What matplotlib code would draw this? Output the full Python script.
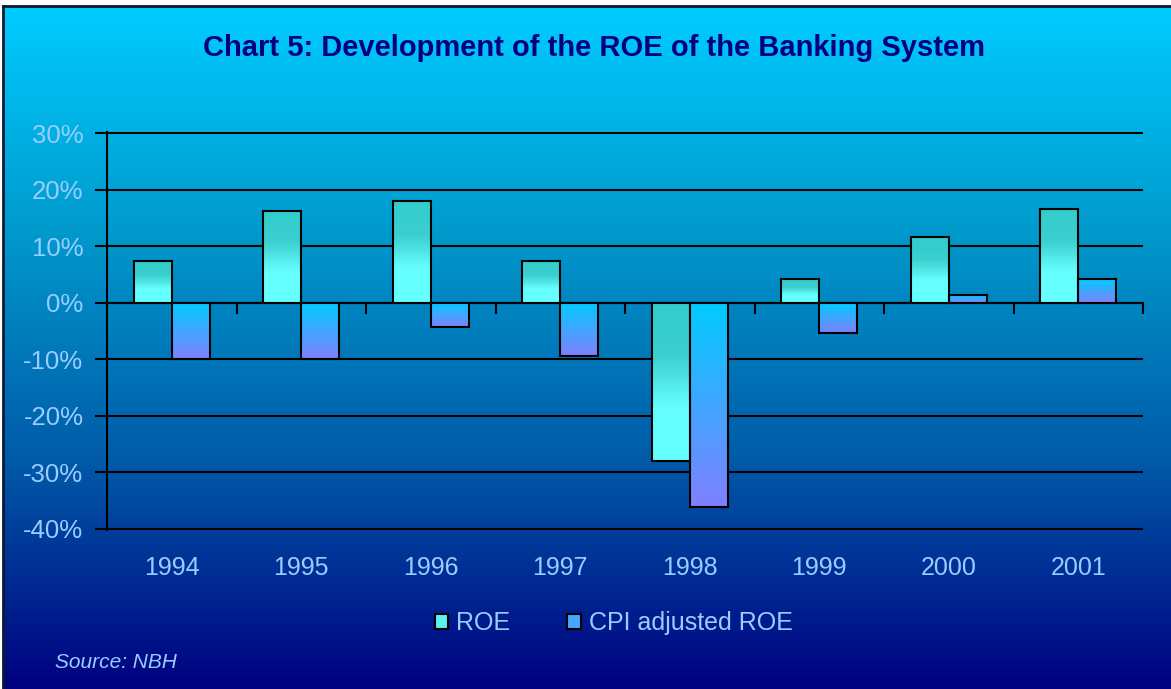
#!/usr/bin/env python3
# ROE of the banking system, clustered bars on a blue gradient panel
import numpy as np
import matplotlib
matplotlib.use("Agg")
from matplotlib import pyplot as plt
from matplotlib.colors import LinearSegmentedColormap
from matplotlib.patches import Patch

years = ["1994", "1995", "1996", "1997", "1998", "1999", "2000", "2001"]
roe = [7.4, 16.3, 18.0, 7.4, -28.0, 4.2, 11.6, 16.6]
cpiAdjRoe = [-10.0, -10.0, -4.3, -9.5, -36.2, -5.3, 1.4, 4.2]
yTicks = [-40, -30, -20, -10, 0, 10, 20, 30]

titleText = "Chart 5: Development of the ROE of the Banking System"
labelColor = "#99ccff"
plt.rcParams["font.family"] = ["Liberation Sans", "DejaVu Sans"]

W, H = 1171, 689
fig = plt.figure(figsize=(W / 100, H / 100), dpi=100, facecolor="white")

# background panel with vertical gradient
bgAx = fig.add_axes([3 / W, 0, 1 - 3 / W, (H - 6) / H], zorder=-5)
bgCmap = LinearSegmentedColormap.from_list("bg", ["#00ccff", "#0099cc", "#005aa8", "#000080"])
bgAx.imshow(np.linspace(0, 1, 256).reshape(-1, 1), aspect="auto", cmap=bgCmap,
            extent=[0, 1, 0, 1], origin="upper")
bgAx.set_xticks([])
bgAx.set_yticks([])
for side in ["right", "bottom"]:
    bgAx.spines[side].set_visible(False)
for side in ["left", "top"]:
    bgAx.spines[side].set_color("#0a1a30")
    bgAx.spines[side].set_linewidth(2)

ax = fig.add_axes([107 / W, 1 - 530 / H, (1143 - 107) / W, (530 - 132) / H])
ax.patch.set_alpha(0)

x = np.arange(len(years))
barW = 0.293
roeBars = ax.bar(x - barW / 2, roe, barW, facecolor="none", edgecolor="black", linewidth=1.5, zorder=3)
cpiBars = ax.bar(x + barW / 2, cpiAdjRoe, barW, facecolor="none", edgecolor="black", linewidth=1.5, zorder=3)

roeCmap = LinearSegmentedColormap.from_list("roe", ["#33cccc", "#3ccfcf", "#66ffff", "#66ffff"])
cpiCmap = LinearSegmentedColormap.from_list("cpi", ["#00ccff", "#8080ff"])
grad = np.linspace(0, 1, 128).reshape(-1, 1)
for bars, cmap in [(roeBars, roeCmap), (cpiBars, cpiCmap)]:
    for b in bars:
        bx, by = b.get_x(), b.get_y()
        bw, bh = b.get_width(), b.get_height()
        top, bottom = max(by, by + bh), min(by, by + bh)
        im = ax.imshow(grad, aspect="auto", cmap=cmap, extent=[bx, bx + bw, bottom, top],
                       origin="upper", zorder=2)
        im.set_clip_path(b)

ax.set_xlim(-0.5, len(years) - 0.5)
ax.set_ylim(-40.18, 30.18)
ax.set_yticks(yTicks)
ax.set_yticklabels([f"{v}%" for v in yTicks])
ax.yaxis.grid(True, color="black", linewidth=1.5)
ax.set_axisbelow(True)
ax.tick_params(axis="y", direction="out", length=9, width=1.5, color="black",
               labelcolor=labelColor, labelsize=18.5, pad=8)
ax.set_xticks(x)
ax.set_xticklabels(years)
ax.tick_params(axis="x", length=0, labelcolor=labelColor, labelsize=18, pad=19)
for side in ["right", "top", "bottom"]:
    ax.spines[side].set_visible(False)
ax.spines["left"].set_linewidth(1.5)

# category axis crossing at 0% with ticks between groups (pointing down)
boundaries = np.arange(len(years) + 1) - 0.5
catAx = ax.secondary_xaxis(40.18 / 70.36)
catAx.set_xticks(boundaries, labels=[""] * len(boundaries))
catAx.tick_params(direction="in", length=8, width=1.5, color="black")
for sp in catAx.spines.values():
    sp.set_linewidth(1.5)

fig.text(0.507, 1 - 48 / H, titleText, ha="center", va="center", fontsize=21,
         fontweight="bold", color="#000080")

handles = [Patch(facecolor="#5ef0f0", edgecolor="black", linewidth=1.5, label="ROE"),
           Patch(facecolor="#45a8ff", edgecolor="black", linewidth=1.5, label="CPI adjusted ROE")]
leg = fig.legend(handles=handles, loc="center", bbox_to_anchor=(0.524, 1 - 623 / H), ncol=2,
                 frameon=False, fontsize=18, handlelength=0.55, handleheight=0.55,
                 handletextpad=0.3, columnspacing=2.3)
for t in leg.get_texts():
    t.set_color(labelColor)

fig.text(55 / W, 1 - 663 / H, "Source: NBH", ha="left", va="center", fontsize=15,
         fontstyle="italic", color=labelColor)

fig.savefig("out.png", dpi=100)
